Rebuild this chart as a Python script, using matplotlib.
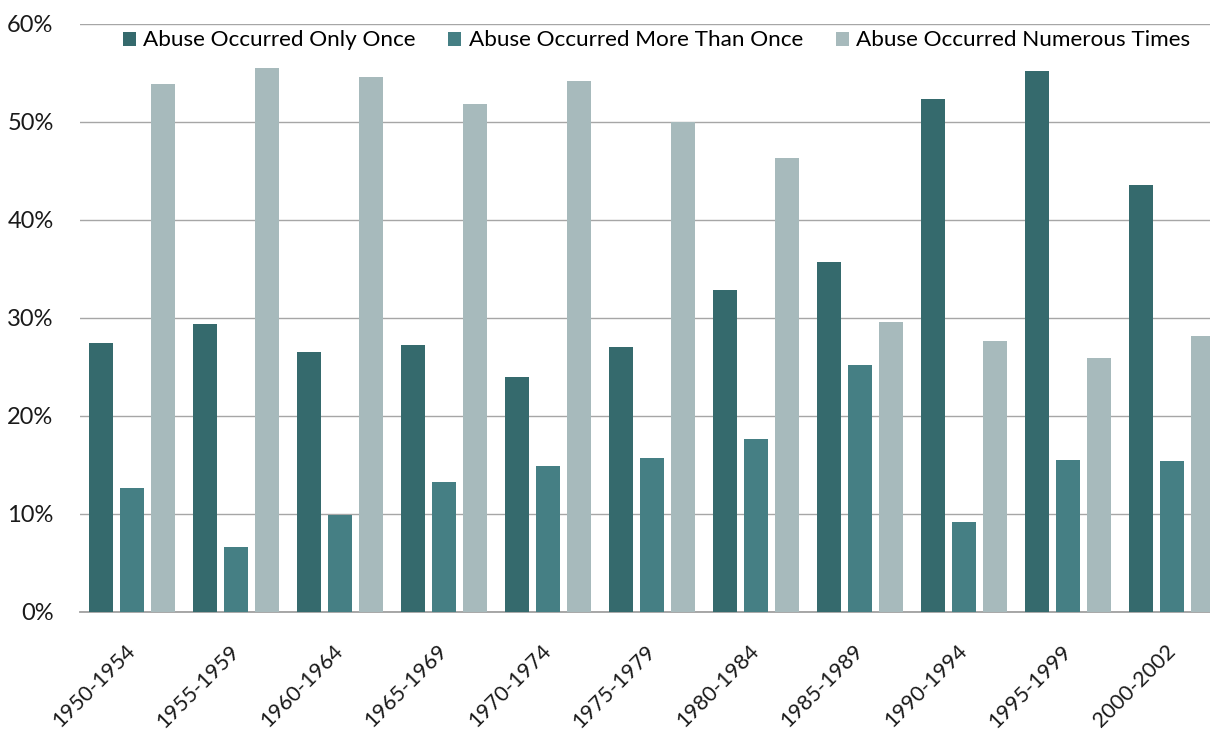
import matplotlib
matplotlib.use("Agg")
import matplotlib.pyplot as plt
import numpy as np
from matplotlib.ticker import PercentFormatter

categories = ["1950-1954", "1955-1959", "1960-1964", "1965-1969", "1970-1974",
              "1975-1979", "1980-1984", "1985-1989", "1990-1994", "1995-1999", "2000-2002"]
only_once = [27.5, 29.4, 26.5, 27.2, 24.0, 27.0, 32.9, 35.7, 52.3, 55.2, 43.6]
more_than_once = [12.7, 6.6, 9.9, 13.3, 14.9, 15.7, 17.7, 25.2, 9.2, 15.5, 15.4]
numerous = [53.9, 55.5, 54.6, 51.8, 54.2, 50.0, 46.3, 29.6, 27.7, 25.9, 28.2]
series_names = ["Abuse Occurred Only Once", "Abuse Occurred More Than Once",
                "Abuse Occurred Numerous Times"]
colors = ["#356a6d", "#457f84", "#a7babc"]

plt.rcParams['font.family'] = ['Lato', 'DejaVu Sans']

fig = plt.figure(figsize=(12.1, 7.32), dpi=100)
ax = fig.add_axes([80/1210, 120/732, 1144/1210, 588/732])

x = np.arange(len(categories))
w = 0.232
step = 0.295
for i, (vals, name, c) in enumerate(zip([only_once, more_than_once, numerous], series_names, colors)):
    ax.bar(x + (i - 1) * step, vals, width=w, color=c, label=name, zorder=3)

ax.set_xlim(-0.5, len(categories) - 0.5)
ax.set_ylim(0, 60)
ax.set_yticks(range(0, 61, 10))
ax.yaxis.set_major_formatter(PercentFormatter(decimals=0))
ax.grid(axis='y', color='#a6a6a6', linewidth=1.0, zorder=0)
for s in ['left', 'right', 'top']:
    ax.spines[s].set_visible(False)
ax.spines['bottom'].set_color('#a0a0a0')
ax.spines['bottom'].set_linewidth(1.3)
ax.tick_params(axis='y', length=0, labelsize=17, pad=19, colors='#1a1a1a')
ax.tick_params(axis='x', length=0, labelsize=15.5, pad=26, colors='#1a1a1a')
ax.set_xticks(x)
ax.set_xticklabels(categories, rotation=45, ha='right', va='center', rotation_mode='anchor')

leg = ax.legend(loc='center', ncol=3, frameon=False, fontsize=16.2,
                bbox_to_anchor=(0.504, 0.972),
                handlelength=0.58, handleheight=0.58, handletextpad=0.33,
                columnspacing=1.45, borderpad=0, borderaxespad=0)

fig.savefig("out.png", dpi=100)
